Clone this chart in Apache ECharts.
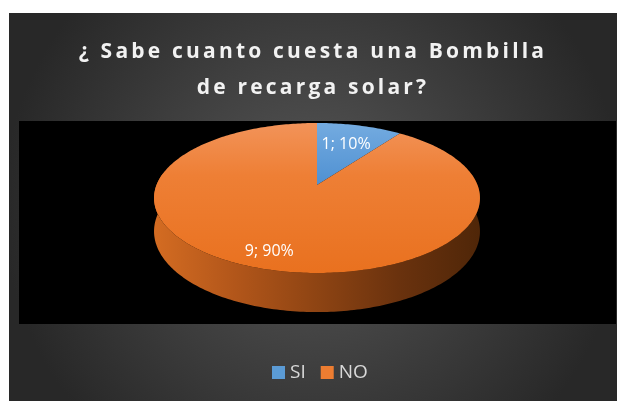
<!DOCTYPE html>
<html>
<head>
<meta charset="utf-8">
<script src="https://cdn.jsdelivr.net/npm/echarts@6/dist/echarts.min.js"></script>
<style>
  html, body { margin: 0; padding: 0; background: #ffffff; width: 617px; height: 401px; overflow: hidden; }
  #chart { position: absolute; left: 9px; top: 13px; width: 608px; height: 388px; }
</style>
</head>
<body>
<div id="chart"></div>
<script>
// Survey answers
const categories = ['SI', 'NO'];
const counts = [1, 9];
const titleText = '¿ Sabe cuanto cuesta una Bombilla\nde recarga solar?';

const total = counts.reduce((s, v) => s + v, 0);
const offsets = counts.map((_, i) => counts.slice(0, i).reduce((s, v) => s + v, 0));

// Spaced-out lettering for the bold heading
const baseFillText = CanvasRenderingContext2D.prototype.fillText;
CanvasRenderingContext2D.prototype.fillText = function () {
  if (/bold/.test(this.font)) {
    const prev = this.letterSpacing;
    this.letterSpacing = '3.2px';
    baseFillText.apply(this, arguments);
    this.letterSpacing = prev;
    return;
  }
  return baseFillText.apply(this, arguments);
};

// Tilted disc seen in perspective: angles run clockwise from 12 o'clock
const disc = { cx: 308, cy: 172, a: 160.5, b: 72.75, p: 0.1733, depth: 32.3 };
function project(deg, r, drop) {
  const t = deg * Math.PI / 180;
  const u = r * Math.sin(t), v = -r * Math.cos(t);
  const w = 1 - disc.p * v;
  return [disc.cx + disc.a * u / w, disc.cy + (disc.b * v + drop) / w];
}
function arc(from, to, r, drop) {
  const pts = [];
  const n = Math.max(2, Math.ceil(Math.abs(to - from)));
  for (let k = 0; k <= n; k++) pts.push(project(from + (to - from) * k / n, r, drop));
  return pts;
}

const sliceColors = ['#5b9bd5', '#ed7d31'];
const topFills = [
  [{ offset: 0, color: '#74abe0' }, { offset: 1, color: '#4a8dd0' }],
  [{ offset: 0, color: '#f29359' }, { offset: 0.35, color: '#ee7f35' }, { offset: 1, color: '#e9711f' }]
];
const wallFills = [
  [{ offset: 0, color: '#3f79b3' }, { offset: 1, color: '#1d3f63' }],
  [{ offset: 0, color: '#d46c22' }, { offset: 0.25, color: '#b2561a' }, { offset: 0.5, color: '#8e4413' }, { offset: 0.75, color: '#6a320e' }, { offset: 1, color: '#4f2608' }]
];
const labelRadius = [0.65, 0.83];

function renderSlice(params, api) {
  const i = params.seriesIndex;
  const val = api.value(0);
  const start = offsets[i] / total * 360;
  const end = (offsets[i] + val) / total * 360;
  const children = [];

  // outer wall on the near side of the disc
  const lo = Math.max(start, 80), hi = Math.min(end, 280);
  if (hi > lo) {
    const wall = arc(lo, hi, 1, 0).concat(arc(hi, lo, 1, disc.depth));
    children.push({
      type: 'polygon', z2: 1,
      shape: { points: wall },
      style: {
        fill: { type: 'linear', x: disc.cx - disc.a * 1.02, y: 0, x2: disc.cx + disc.a * 1.02, y2: 0, global: true, colorStops: wallFills[i] }
      }
    });
  }

  // top face
  const face = [project(0, 0, 0)].concat(arc(start, end, 1, 0));
  children.push({
    type: 'polygon', z2: 2,
    shape: { points: face },
    style: {
      fill: { type: 'linear', x: 0, y: disc.cy - 62, x2: 0, y2: i === 0 ? disc.cy + 8 : disc.cy + 88, global: true, colorStops: topFills[i] }
    }
  });

  // value label
  const mid = (start + end) / 2;
  const pos = project(mid, labelRadius[i], 0);
  children.push({
    type: 'text', z2: 10, x: pos[0], y: pos[1],
    style: {
      text: val + '; ' + Math.round(val / total * 100) + '%',
      fill: '#ffffff', fontSize: 16, fontFamily: 'Open Sans',
      align: 'center', verticalAlign: 'middle'
    }
  });
  return { type: 'group', children };
}

const chart = echarts.init(document.getElementById('chart'), null, { renderer: 'canvas' });
chart.setOption({
  animation: false,
  color: sliceColors,
  backgroundColor: {
    type: 'radial', x: 0.5, y: 0.5, r: 0.8,
    colorStops: [{ offset: 0, color: '#575757' }, { offset: 1, color: '#282828' }]
  },
  title: {
    text: titleText,
    left: 'center', top: 21, padding: 0,
    textStyle: { color: '#f2f2f2', fontSize: 21, fontWeight: 'bold', fontFamily: 'Open Sans', lineHeight: 36 }
  },
  legend: {
    data: categories, left: 263, top: 350, padding: 0,
    icon: 'rect', itemWidth: 13, itemHeight: 13, itemGap: 15, selectedMode: false,
    textStyle: { color: '#d9d9d9', fontSize: 19, fontFamily: 'Open Sans' }
  },
  graphic: [{
    type: 'rect', left: 10, top: 108, z: 0, silent: true,
    shape: { width: 597, height: 203 },
    style: { fill: '#000000' }
  }],
  series: categories.map((name, i) => ({
    type: 'custom', name, coordinateSystem: 'none', silent: true, z: 2,
    itemStyle: { color: sliceColors[i] },
    data: [[counts[i]]],
    renderItem: renderSlice
  }))
});
</script>
</body>
</html>
